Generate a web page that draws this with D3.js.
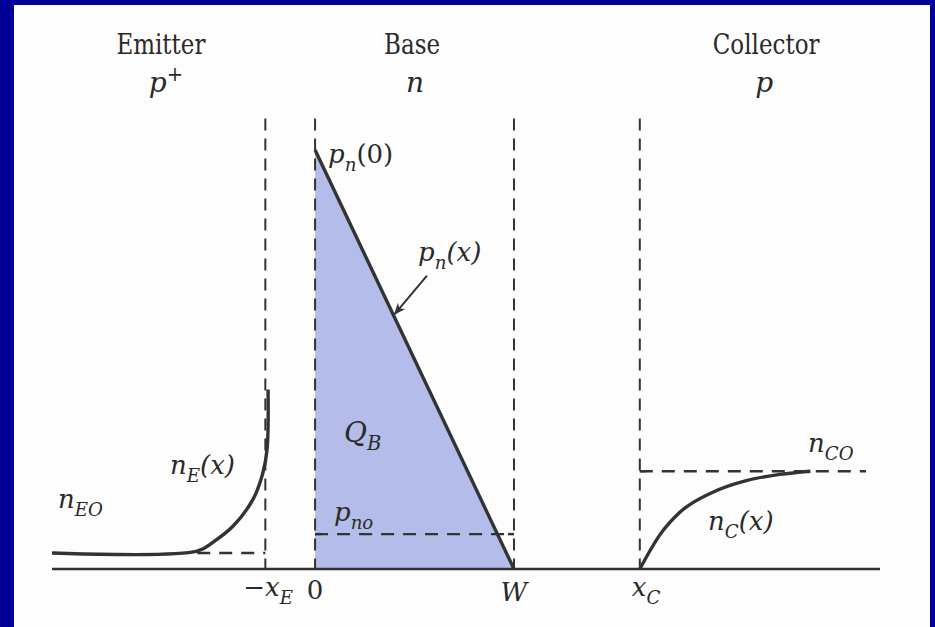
<!DOCTYPE html>
<html>
<head>
<meta charset="utf-8">
<script src="https://cdn.jsdelivr.net/npm/d3@7"></script>
<style>
  html, body { margin: 0; padding: 0; background: #000099; }
  svg { display: block; }
  text { font-family: "DejaVu Serif", "Liberation Serif", serif; fill: #2a2a2a; }
</style>
</head>
<body>
<svg id="chart" width="935" height="627"></svg>
<script>
// Region boundaries along the device (x in arbitrary length units)
const boundaryNames = ["-xE", "0", "W", "xC"];
const boundaryX = [-1.0, 0, 4.0, 6.53];
const xExtent = [-5.29, 11.36];

// Minority carrier levels (arbitrary concentration units)
const pn0 = 12.0;          // p_n(0)
const pno = 1.0;           // p_no
const nEO = 0.46;          // n_EO
const nCO = 2.8;           // n_CO
const dashTop = 12.9;      // top of region boundary markers

// Hole profile in the base: linear from p_n(0) at x=0 down to 0 at x=W
const baseX = [0, 4.0];
const baseP = [12.0, 0];

// Electron profile in the emitter
const emitterX = [-5.29, -2.37, -2.05, -1.648, -1.246, -1.05, -0.965, -0.945];
const emitterN = [0.46, 0.51, 0.77, 1.23, 2.0, 2.75, 3.43, 5.14];

// Electron profile in the collector
const collectorX = [6.53, 6.93, 7.34, 8.0, 8.69, 9.35, 9.96];
const collectorN = [0, 0.97, 1.63, 2.2, 2.54, 2.71, 2.8];
const nCOEnd = 11.08;

// Region headers
const regionNames = ["Emitter", "Base", "Collector"];
const regionX = [-3.1, 1.95, 9.07];

const svg = d3.select("#chart");
const W = 935, H = 627;

// Frame: blue border on left/top/right, white panel
svg.append("rect").attr("x", 0).attr("y", 0).attr("width", W).attr("height", H).attr("fill", "#000099");
svg.append("rect").attr("x", 14).attr("y", 5).attr("width", W - 14 - 5).attr("height", H - 5).attr("fill", "#fdfdfd");

const x = d3.scaleLinear().domain(xExtent).range([52, 880]);
const y = d3.scaleLinear().domain([0, pn0]).range([569, 150]);

const ink = "#333";
const g = svg.append("g");

// Shaded stored charge Q_B
const area = d3.area().x((d, i) => x(baseX[i])).y0(y(0)).y1((d) => y(d));
g.append("path").datum(baseP).attr("d", area).attr("fill", "#b4bdea");

// Region boundary markers (dashed verticals)
boundaryX.forEach((bx) => {
  g.append("line")
    .attr("x1", x(bx)).attr("x2", x(bx))
    .attr("y1", y(dashTop)).attr("y2", y(0))
    .attr("stroke", ink).attr("stroke-width", 2)
    .attr("stroke-dasharray", "12,8");
});

// Equilibrium levels
function hDash(x0, x1, v) {
  g.append("line")
    .attr("x1", x(x0)).attr("x2", x(x1))
    .attr("y1", y(v)).attr("y2", y(v))
    .attr("stroke", ink).attr("stroke-width", 2.4)
    .attr("stroke-dasharray", "13,9");
}
hDash(-2.37, boundaryX[0], nEO);
hDash(0, 4.0, pno);
hDash(boundaryX[3], nCOEnd, nCO);
// small end caps on the p_no and n_CO levels
[[0, pno], [4.0, pno], [boundaryX[3], nCO]].forEach(([cx, cv]) => {
  g.append("line").attr("x1", x(cx)).attr("x2", x(cx) + (cx === 4.0 ? -6 : 6))
    .attr("y1", y(cv)).attr("y2", y(cv)).attr("stroke", ink).attr("stroke-width", 2.4);
});

// Axis line
g.append("line")
  .attr("x1", x(xExtent[0])).attr("x2", x(xExtent[1]))
  .attr("y1", y(0)).attr("y2", y(0))
  .attr("stroke", ink).attr("stroke-width", 2.4);

// Carrier profiles
g.append("path")
  .attr("d", d3.line()(baseX.map((v, i) => [x(v), y(baseP[i])])))
  .attr("fill", "none").attr("stroke", ink).attr("stroke-width", 3.4);
g.append("path")
  .attr("d", d3.line().curve(d3.curveCatmullRom)(emitterX.map((v, i) => [x(v), y(emitterN[i])])))
  .attr("fill", "none").attr("stroke", ink).attr("stroke-width", 3.4);
g.append("path")
  .attr("d", d3.line().curve(d3.curveMonotoneX)(collectorX.map((v, i) => [x(v), y(collectorN[i])])))
  .attr("fill", "none").attr("stroke", ink).attr("stroke-width", 3.4);

// Arrow pointing to p_n(x)
svg.append("defs").append("marker")
  .attr("id", "arr").attr("viewBox", "0 0 10 10").attr("refX", 9).attr("refY", 5)
  .attr("markerWidth", 6).attr("markerHeight", 6).attr("orient", "auto-start-reverse")
  .append("path").attr("d", "M0,1 L10,5 L0,9 L3,5 Z").attr("fill", ink);
g.append("line")
  .attr("x1", x(2.25)).attr("y1", y(8.4))
  .attr("x2", x(1.6)).attr("y2", y(7.3))
  .attr("stroke", ink).attr("stroke-width", 2)
  .attr("marker-end", "url(#arr)");

// Math-style label: parts are [text, italic, subscript, superscript]
function label(px, py, parts, size, anchor) {
  const t = g.append("text").attr("x", px).attr("y", py)
    .attr("font-size", size).attr("text-anchor", anchor || "start");
  let shift = 0;
  parts.forEach(([s, it, sub, sup]) => {
    const target = sub ? size * 0.3 : sup ? -size * 0.4 : 0;
    t.append("tspan").text(s)
      .attr("dy", target - shift)
      .attr("font-style", it ? "italic" : "normal")
      .attr("font-size", (sub || sup) ? size * 0.7 : size);
    shift = target;
  });
  return t;
}

// Region headers and doping types
regionNames.forEach((name, i) => {
  g.append("text").attr("x", x(regionX[i])).attr("y", 54)
    .attr("text-anchor", "middle").attr("font-size", 25)
    .attr("transform", `translate(${x(regionX[i])},0) scale(0.92,1.12) translate(${-x(regionX[i])},0)`)
    .attr("y", 48).text(name);
});
label(x(regionX[0]) + 5, 92, [["p", true], ["+", false, false, true]], 28, "middle");
label(x(regionX[1]) + 3, 92, [["n", true]], 28, "middle");
label(x(regionX[2]) - 2, 92, [["p", true]], 28, "middle");

// Curve labels
label(328, 163, [["p", true], ["n", true, true], ["(0)"]], 26);
label(418, 261, [["p", true], ["n", true, true], ["(x)", true]], 26);
label(344, 442, [["Q", true], ["B", true, true]], 28);
label(334, 521, [["p", true], ["no", true, true]], 26);
label(170, 474, [["n", true], ["E", true, true], ["(x)", true]], 26);
label(58, 508, [["n", true], ["EO", true, true]], 26);
label(808, 452, [["n", true], ["CO", true, true]], 26);
label(708, 530, [["n", true], ["C", true, true], ["(x)", true]], 26);

// Position labels on the axis
label(x(boundaryX[0]) - 22, 596, [["\u2212x", true], ["E", true, true]], 26);
label(x(boundaryX[1]), 599, [["0"]], 26, "middle");
label(x(boundaryX[2]), 601, [["W", true]], 26, "middle");
label(x(boundaryX[3]) - 8, 596, [["x", true], ["C", true, true]], 26);
</script>
</body>
</html>
